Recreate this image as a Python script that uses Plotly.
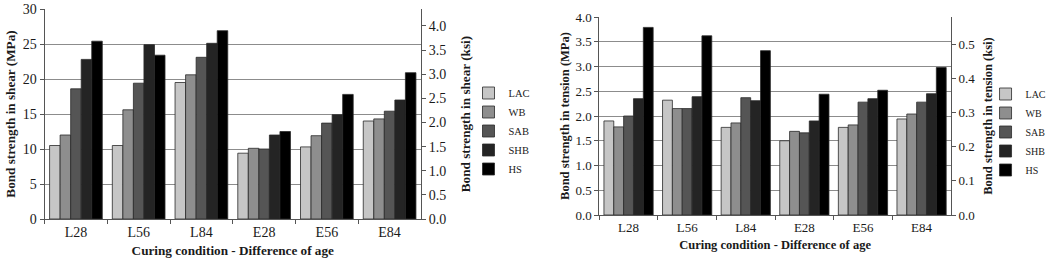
import plotly.graph_objects as go

categories = ["L28", "L56", "L84", "E28", "E56", "E84"]
series_names = ["LAC", "WB", "SAB", "SHB", "HS"]

shear_LAC = [10.5, 10.5, 19.5, 9.4, 10.3, 14.0]
shear_WB = [12.0, 15.6, 20.6, 10.1, 11.9, 14.3]
shear_SAB = [18.6, 19.4, 23.1, 10.0, 13.7, 15.4]
shear_SHB = [22.8, 24.9, 25.1, 12.0, 14.9, 17.0]
shear_HS = [25.4, 23.4, 26.9, 12.5, 17.8, 20.9]

tension_LAC = [1.90, 2.32, 1.77, 1.50, 1.77, 1.94]
tension_WB = [1.78, 2.15, 1.86, 1.69, 1.82, 2.04]
tension_SAB = [2.00, 2.15, 2.37, 1.66, 2.28, 2.28]
tension_SHB = [2.35, 2.39, 2.31, 1.90, 2.35, 2.45]
tension_HS = [3.79, 3.62, 3.32, 2.44, 2.52, 2.98]

MPA_PER_KSI = 6.895

colors = ["#c6c6c6", "#8e8e8e", "#555555", "#242424", "#000000"]

shear = [shear_LAC, shear_WB, shear_SAB, shear_SHB, shear_HS]
tension = [tension_LAC, tension_WB, tension_SAB, tension_SHB, tension_HS]

SERIF = "Liberation Serif"
W, H = 1052, 263

fig = go.Figure()

for name, vals, col in zip(series_names, shear, colors):
    fig.add_trace(go.Bar(x=categories, y=vals, name=name, marker=dict(color=col, line=dict(color="#2a2a2a", width=0.8)),
                         xaxis="x", yaxis="y", legend="legend", offsetgroup=name))
for name, vals, col in zip(series_names, tension, colors):
    fig.add_trace(go.Bar(x=categories, y=vals, name=name, marker=dict(color=col, line=dict(color="#2a2a2a", width=0.8)),
                         xaxis="x2", yaxis="y2", legend="legend2", offsetgroup=name))

# helper (invisible) traces so the secondary ksi axes are drawn
fig.add_trace(go.Scatter(x=categories, y=[v / MPA_PER_KSI for v in shear_HS], mode="markers",
                         marker=dict(opacity=0), showlegend=False, hoverinfo="skip", xaxis="x", yaxis="y3"))
fig.add_trace(go.Scatter(x=categories, y=[v / MPA_PER_KSI for v in tension_HS], mode="markers",
                         marker=dict(opacity=0), showlegend=False, hoverinfo="skip", xaxis="x2", yaxis="y4"))

def px_x(a, b):
    return [a / W, b / W]

def px_y(top, bottom):
    return [(H - bottom) / H, (H - top) / H]

grid = "#8c8c8c"
axis_common = dict(showline=True, linecolor="#555555", linewidth=1, ticks="outside", ticklen=4,
                   tickcolor="#555555", zeroline=False, automargin=False)

fig.update_layout(
    width=W, height=H, margin=dict(l=0, r=0, t=0, b=0),
    paper_bgcolor="white", plot_bgcolor="white",
    barmode="group", bargap=0.16, bargroupgap=0,
    font=dict(family=SERIF, color="#1a1a1a"),
    showlegend=True,
    xaxis=dict(domain=px_x(45, 425), anchor="y", tickson="boundaries", showgrid=False,
               tickfont=dict(size=14), title=dict(text="<b>Curing condition - Difference of age</b>", font=dict(size=13.2), standoff=6),
               **axis_common),
    yaxis=dict(domain=px_y(9, 219), anchor="x", range=[0, 30], dtick=5, showgrid=True, gridcolor=grid, gridwidth=1,
               tickfont=dict(size=14), title=dict(text="<b>Bond strength in shear (MPa)</b>", font=dict(size=13.2), standoff=4),
               **axis_common),
    yaxis3=dict(overlaying="y", side="right", anchor="x", range=[0, 30 / MPA_PER_KSI], dtick=0.5, tickformat=".1f",
                showgrid=False, tickfont=dict(size=14),
                title=dict(text="<b>Bond strength in shear (ksi)</b>", font=dict(size=13.2), standoff=15),
                **axis_common),
    xaxis2=dict(domain=px_x(605, 960), anchor="y2", tickson="boundaries", showgrid=False,
                tickfont=dict(size=13), title=dict(text="<b>Curing condition - Difference of age</b>", font=dict(size=12.5), standoff=6),
                **axis_common),
    yaxis2=dict(domain=px_y(17, 215), anchor="x2", range=[0, 4], dtick=0.5, tickformat=".1f", showgrid=True,
                gridcolor=grid, gridwidth=1, tickfont=dict(size=13),
                title=dict(text="<b>Bond strength in tension (MPa)</b>", font=dict(size=12.5), standoff=3),
                **axis_common),
    yaxis4=dict(overlaying="y2", side="right", anchor="x2", range=[0, 4 / MPA_PER_KSI], dtick=0.1, tickformat=".1f",
                showgrid=False, tickfont=dict(size=13),
                title=dict(text="<b>Bond strength in tension (ksi)</b>", font=dict(size=12.5), standoff=9),
                **axis_common),
    legend=dict(x=473 / W, y=1 - 131 / H, xanchor="left", yanchor="middle", font=dict(size=10.5),
                bgcolor="rgba(0,0,0,0)", itemwidth=30, tracegroupgap=0),
    legend2=dict(x=995 / W, y=1 - 132 / H, xanchor="left", yanchor="middle", font=dict(size=10),
                 bgcolor="rgba(0,0,0,0)", itemwidth=30, tracegroupgap=0),
)

fig.write_html("out.html", config={"displayModeBar": False},
               post_script="document.body.style.margin='0';")
